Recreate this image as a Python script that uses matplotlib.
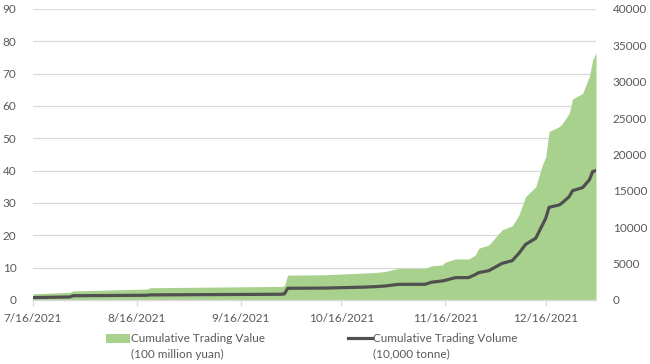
import matplotlib
matplotlib.use("Agg")
import matplotlib.pyplot as plt
import matplotlib.patches as mpatches
from matplotlib.lines import Line2D
import pandas as pd

# Trading dates (2021)
dates = [
    "2021-07-16", "2021-07-27", "2021-07-28", "2021-08-19", "2021-08-20",
    "2021-09-28", "2021-09-29", "2021-09-30", "2021-10-11", "2021-10-22",
    "2021-10-26", "2021-10-29", "2021-11-02", "2021-11-10", "2021-11-12",
    "2021-11-15", "2021-11-16", "2021-11-19", "2021-11-23", "2021-11-25",
    "2021-11-26", "2021-11-29", "2021-12-03", "2021-12-06", "2021-12-08",
    "2021-12-10", "2021-12-13", "2021-12-15", "2021-12-16", "2021-12-17",
    "2021-12-20", "2021-12-21", "2021-12-23", "2021-12-24", "2021-12-27",
    "2021-12-29", "2021-12-30", "2021-12-31",
]

# Cumulative trading value (100 million yuan), left axis
trade_value = [
    1.9, 2.4, 2.8, 3.4, 3.8,
    4.2, 4.4, 7.7, 7.8, 8.3,
    8.5, 8.8, 9.8, 9.8, 10.6,
    10.8, 11.7, 12.7, 12.7, 13.9,
    16.0, 17.0, 21.7, 22.9, 26.3,
    32.0, 35.0, 41.8, 44.3, 52.1,
    53.6, 54.6, 57.7, 62.2, 63.9,
    69.1, 74.2, 76.5,
]

# Cumulative trading volume (10,000 tonne), right axis
trade_volume = [
    330, 420, 590, 650, 700,
    790, 830, 1610, 1640, 1760,
    1830, 1925, 2150, 2160, 2450,
    2610, 2700, 3070, 3080, 3500,
    3760, 4030, 5040, 5410, 6420,
    7650, 8480, 10310, 11230, 12740,
    13060, 13380, 14210, 15030, 15450,
    16500, 17650, 17790,
]

tick_dates = ["2021-07-16", "2021-08-16", "2021-09-16", "2021-10-16", "2021-11-16", "2021-12-16"]
tick_labels = ["7/16/2021", "8/16/2021", "9/16/2021", "10/16/2021", "11/16/2021", "12/16/2021"]

legend_names = ["Cumulative Trading Value", "Cumulative Trading Volume"]
legend_units = ["(100 million yuan)", "(10,000 tonne)"]

GREEN = "#a9d18e"
DARK = "#505050"
TXT = "#595959"
GRID = "#d9d9d9"

plt.rcParams["font.family"] = ["Lato", "DejaVu Sans"]
plt.rcParams["font.size"] = 8.5

x = pd.to_datetime(dates)

fig = plt.figure(figsize=(6.5, 3.64), dpi=100)
ax = fig.add_axes([33 / 650, 64 / 364, 563 / 650, 291 / 364])
ax2 = ax.twinx()

ax.fill_between(x, 0, trade_value, color=GREEN, lw=0, zorder=2)
ax2.plot(x, trade_volume, color=DARK, lw=2.3, solid_joinstyle="round", zorder=3)

ax.set_xlim(pd.Timestamp("2021-07-16"), pd.Timestamp("2021-12-31"))
ax.set_ylim(0, 90)
ax2.set_ylim(0, 40000)
ax.set_yticks(range(0, 91, 10))
ax2.set_yticks(range(0, 40001, 5000))

ax.set_xticks(pd.to_datetime(tick_dates))
ax.set_xticklabels(tick_labels)

ax.grid(axis="y", color=GRID, lw=0.9, zorder=0)
ax.set_axisbelow(True)

for a in (ax, ax2):
    for s in a.spines.values():
        s.set_visible(False)
ax.spines["bottom"].set_visible(True)
ax.spines["bottom"].set_color(GRID)
ax.spines["bottom"].set_linewidth(1.0)
ax.spines["bottom"].set_zorder(4)

ax.tick_params(axis="x", colors=GRID, length=4, width=0.9, labelcolor=TXT, pad=5)
ax.tick_params(axis="y", length=0, labelcolor=TXT, pad=12)
ax2.tick_params(axis="y", length=0, labelcolor=TXT, pad=12)

handles = [
    mpatches.Patch(facecolor=GREEN, edgecolor="none"),
    Line2D([0], [0], color=DARK, lw=2.3),
]
leg = fig.legend(handles, legend_names, loc="center left",
                 bbox_to_anchor=(106 / 650, 1 - 339 / 364),
                 ncol=2, frameon=False, handlelength=2.0, handleheight=0.7,
                 handletextpad=0.15, columnspacing=7.0, borderpad=0, borderaxespad=0)
for t in leg.get_texts():
    t.set_color(TXT)

# second line of each legend label, placed under the first
fig.canvas.draw()
inv = fig.transFigure.inverted()
for t, unit in zip(leg.get_texts(), legend_units):
    bb = t.get_window_extent()
    x0, yc = inv.transform((bb.x0, (bb.y0 + bb.y1) / 2))
    fig.text(x0, yc - 15 / 364, unit, color=TXT, ha="left", va="center")

fig.savefig("out.png", dpi=100, facecolor="white")
